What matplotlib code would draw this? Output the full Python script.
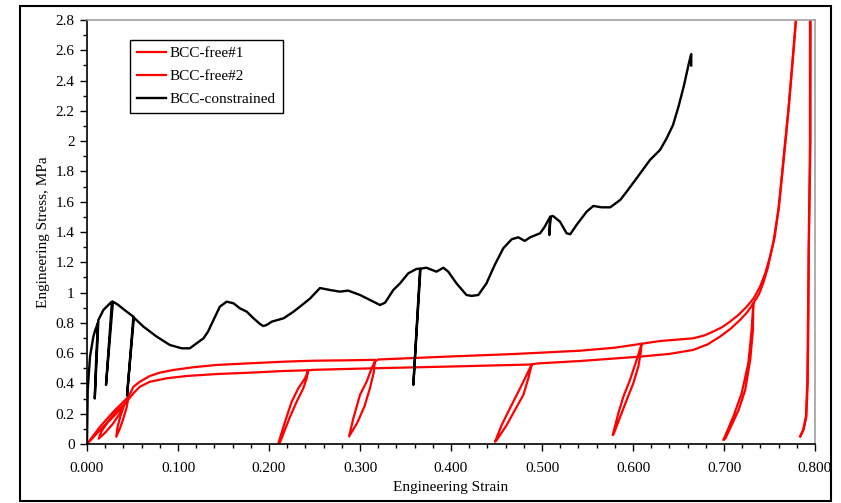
import matplotlib
matplotlib.use("Agg")
import matplotlib.pyplot as plt
from matplotlib.ticker import MultipleLocator, FuncFormatter
from matplotlib.patches import Rectangle

plt.rcParams['font.family'] = ['Liberation Serif', 'DejaVu Serif']

# BCC-free#1 (upper red curve, with unload/reload loops)
free1_strain = [0.0, 0.0143, 0.029, 0.0436, 0.0457,
                0.0435, 0.0395, 0.036, 0.0322,
                0.0335, 0.0365, 0.041, 0.0457,
                0.051, 0.058, 0.069, 0.080, 0.095, 0.117, 0.1425, 0.179,
                0.2176, 0.249, 0.290, 0.3165,
                0.315, 0.311, 0.305, 0.297, 0.288,
                0.2927, 0.300, 0.3073, 0.3128, 0.3165,
                0.320, 0.395, 0.4685, 0.5418, 0.58, 0.6095,
                0.6084, 0.6058, 0.6003, 0.593, 0.579,
                0.5777, 0.5839, 0.5894, 0.5967, 0.604, 0.6095,
                0.615, 0.6297, 0.650, 0.666, 0.678, 0.688, 0.698, 0.7066, 0.716,
                0.725, 0.733, 0.7396, 0.7455, 0.7505,
                0.7542, 0.7597, 0.7634, 0.767, 0.7707, 0.7744, 0.778, 0.7795, 0.7805,
                0.7955, 0.7945, 0.7945, 0.793, 0.7923, 0.7915, 0.790, 0.787, 0.7835]
free1_stress = [0.0, 0.114, 0.213, 0.300, 0.312,
                0.24, 0.16, 0.10, 0.048,
                0.11, 0.18, 0.26, 0.312,
                0.378, 0.411, 0.449, 0.471, 0.489, 0.507, 0.522, 0.533,
                0.544, 0.550, 0.553, 0.556,
                0.47, 0.37, 0.25, 0.14, 0.05,
                0.17, 0.324, 0.412, 0.50, 0.545,
                0.558, 0.577, 0.594, 0.616, 0.636, 0.662,
                0.60, 0.51, 0.40, 0.29, 0.07,
                0.059, 0.203, 0.312, 0.423, 0.555, 0.662,
                0.667, 0.680, 0.690, 0.698, 0.716, 0.742, 0.772, 0.808, 0.853,
                0.907, 0.965, 1.039, 1.13, 1.237,
                1.33, 1.546, 1.766, 1.986, 2.206, 2.47, 2.734, 2.85, 2.95,
                2.95, 2.8, 1.99, 1.28, 0.84, 0.40, 0.18, 0.095, 0.05]

# BCC-free#2 (lower red curve)
free2_strain = [0.0, 0.0143, 0.0326, 0.040,
                0.036, 0.028, 0.020, 0.0128,
                0.016, 0.024, 0.032, 0.040,
                0.0436, 0.051, 0.058, 0.069, 0.0875, 0.1095, 0.1425, 0.179,
                0.2157, 0.2432,
                0.2414, 0.2377, 0.2304, 0.2231, 0.2121,
                0.2103, 0.2176, 0.2249, 0.2322, 0.2396, 0.2432,
                0.250, 0.3146, 0.395, 0.4887,
                0.485, 0.4795, 0.4703, 0.4612, 0.4502,
                0.4484, 0.4557, 0.4648, 0.474, 0.4813, 0.4887,
                0.495, 0.5418, 0.6077, 0.640, 0.666, 0.682, 0.6956, 0.707,
                0.7176, 0.7255, 0.7322,
                0.7318, 0.7288, 0.7233, 0.7161, 0.7016,
                0.6993, 0.7102, 0.7194, 0.7267, 0.7304, 0.7322,
                0.7385, 0.743, 0.748, 0.7524,
                0.7555, 0.7605, 0.764, 0.7675, 0.771, 0.7747, 0.7783, 0.7798, 0.7808,
                0.796, 0.7952, 0.795, 0.7932, 0.7928, 0.792, 0.7905, 0.7875, 0.784]
free2_stress = [0.0, 0.092, 0.203, 0.255,
                0.20, 0.13, 0.075, 0.035,
                0.085, 0.155, 0.215, 0.255,
                0.279, 0.335, 0.378, 0.411, 0.434, 0.449, 0.462, 0.471,
                0.482, 0.487,
                0.434, 0.368, 0.279, 0.18, 0.011,
                0.005, 0.147, 0.279, 0.368, 0.434, 0.487,
                0.490, 0.500, 0.511, 0.525,
                0.434, 0.324, 0.225, 0.125, 0.026,
                0.015, 0.125, 0.236, 0.345, 0.434, 0.525,
                0.532, 0.548, 0.577, 0.595, 0.621, 0.658, 0.709, 0.760,
                0.819, 0.870, 0.929,
                0.753, 0.555, 0.357, 0.225, 0.037,
                0.026, 0.18, 0.335, 0.533, 0.753, 0.929,
                0.99, 1.061, 1.16, 1.281,
                1.36, 1.57, 1.78, 1.99, 2.21, 2.47, 2.73, 2.85, 2.95,
                2.95, 2.8, 1.99, 1.28, 0.84, 0.40, 0.18, 0.095, 0.05]

# BCC-constrained (black)
con_strain = [0.0, 0.0008, 0.0033, 0.0070, 0.0091, 0.0120,
              0.0100, 0.0085, 0.0105, 0.0125,
              0.018, 0.0253, 0.0274, 0.0209, 0.0285,
              0.0344, 0.0436, 0.051, 0.044, 0.0515,
              0.062, 0.0766, 0.091, 0.104, 0.113, 0.1205, 0.128, 0.133, 0.139,
              0.146, 0.1535, 0.161, 0.168, 0.1755, 0.183, 0.190, 0.1937, 0.1975,
              0.203, 0.216, 0.227, 0.234, 0.245, 0.256, 0.267, 0.278, 0.287,
              0.300, 0.311, 0.322, 0.3275, 0.3366, 0.344, 0.353, 0.362, 0.366,
              0.3586, 0.3665,
              0.373, 0.384, 0.3916, 0.397, 0.406, 0.417, 0.4227, 0.430, 0.439,
              0.448, 0.4575, 0.4667, 0.474, 0.481, 0.487, 0.498, 0.503, 0.509,
              0.508, 0.5095,
              0.512, 0.5198, 0.527, 0.531, 0.538, 0.549, 0.5564, 0.5655, 0.575,
              0.586, 0.593, 0.604, 0.6187, 0.6297, 0.637, 0.644, 0.650, 0.6557,
              0.661, 0.6634, 0.6640, 0.6640]
con_stress = [0.0, 0.357, 0.577, 0.709, 0.753, 0.800,
              0.55, 0.30, 0.55, 0.819,
              0.885, 0.929, 0.940, 0.39, 0.940,
              0.918, 0.874, 0.841, 0.32, 0.835,
              0.775, 0.709, 0.654, 0.632, 0.632, 0.665, 0.698, 0.742, 0.819,
              0.907, 0.940, 0.929, 0.896, 0.874, 0.830, 0.793, 0.779, 0.786,
              0.808, 0.830, 0.874, 0.907, 0.96, 1.03, 1.017, 1.006, 1.013,
              0.984, 0.951, 0.918, 0.933, 1.017, 1.061, 1.127, 1.156, 1.158,
              0.39, 1.158,
              1.164, 1.138, 1.164, 1.138, 1.061, 0.984, 0.978, 0.984, 1.061,
              1.182, 1.293, 1.352, 1.365, 1.341, 1.365, 1.392, 1.435, 1.501,
              1.38, 1.501,
              1.506, 1.468, 1.392, 1.385, 1.447, 1.534, 1.572, 1.563, 1.563,
              1.612, 1.666, 1.755, 1.876, 1.942, 2.019, 2.107, 2.228, 2.36,
              2.503, 2.563, 2.575, 2.50]

fig = plt.figure(figsize=(8.41, 5.03), dpi=100)
ax = fig.add_axes([87 / 841, 59 / 503, 728 / 841, 424 / 503])

ax.plot(free1_strain, free1_stress, color='#ff0000', lw=1.6, label='BCC-free#1')
ax.plot(free2_strain, free2_stress, color='#ff0000', lw=1.6, label='BCC-free#2')
ax.plot(con_strain, con_stress, color='black', lw=1.7, label='BCC-constrained')

ax.set_xlim(0, 0.8)
ax.set_ylim(0, 2.8)
ax.xaxis.set_major_locator(MultipleLocator(0.1))
ax.xaxis.set_minor_locator(MultipleLocator(0.02))
ax.yaxis.set_major_locator(MultipleLocator(0.2))
ax.yaxis.set_minor_locator(MultipleLocator(0.1))
ax.xaxis.set_major_formatter(FuncFormatter(lambda v, p: '%.3f' % v))
ax.yaxis.set_major_formatter(FuncFormatter(lambda v, p: '%g' % round(v, 1)))
ax.tick_params(axis='both', which='both', direction='out', labelsize=11, width=1)
ax.tick_params(axis='x', which='major', length=5, pad=8)
ax.tick_params(axis='x', which='minor', length=3)
ax.tick_params(axis='y', which='major', length=5, pad=4)
ax.tick_params(axis='y', which='minor', length=3)

for s in ['top', 'right']:
    ax.spines[s].set_color('#a0a0a0')
    ax.spines[s].set_linewidth(1.2)
for s in ['left', 'bottom']:
    ax.spines[s].set_color('black')
    ax.spines[s].set_linewidth(1.2)

ax.set_xlabel('Engineering Strain', fontsize=11, labelpad=4)
ax.set_ylabel('Engineering Stress, MPa', fontsize=11, labelpad=4)

leg = ax.legend(loc='upper left', bbox_to_anchor=(0.059, 0.953), borderaxespad=0,
                fancybox=False, edgecolor='black', fontsize=11, handlelength=1.9,
                handletextpad=0.25, framealpha=1, borderpad=0.45, labelspacing=0.6)
leg.get_frame().set_linewidth(1.0)

fig.patches.append(Rectangle((20 / 841, 2 / 503), 811 / 841, 495 / 503,
                             transform=fig.transFigure, fill=False,
                             edgecolor='black', linewidth=1.5))

fig.savefig('out.png', dpi=100)
